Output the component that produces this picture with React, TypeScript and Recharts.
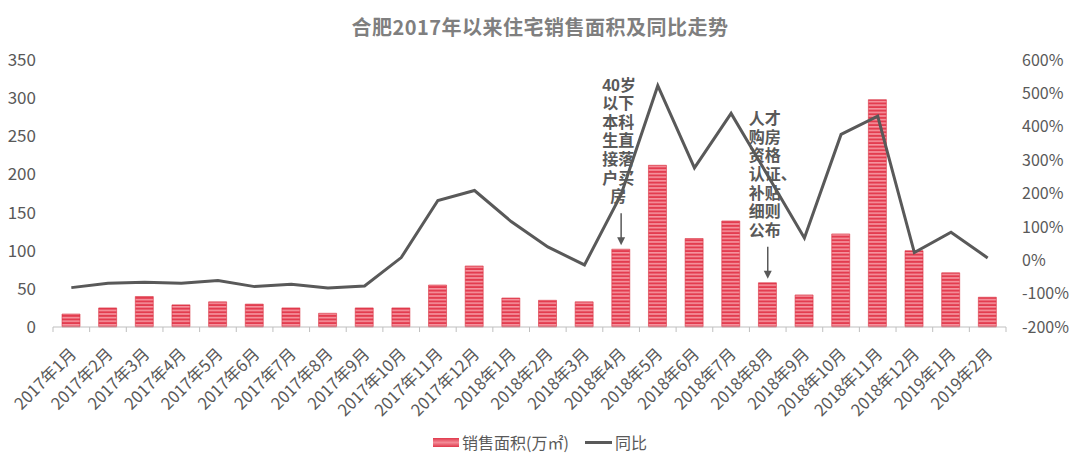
import React from "react";
import {
  ComposedChart,
  Bar,
  Line,
  XAxis,
  YAxis,
  Legend,
  ReferenceDot,
} from "recharts";

const months = [
  "2017年1月", "2017年2月", "2017年3月", "2017年4月", "2017年5月", "2017年6月",
  "2017年7月", "2017年8月", "2017年9月", "2017年10月", "2017年11月", "2017年12月",
  "2018年1月", "2018年2月", "2018年3月", "2018年4月", "2018年5月", "2018年6月",
  "2018年7月", "2018年8月", "2018年9月", "2018年10月", "2018年11月", "2018年12月",
  "2019年1月", "2019年2月",
];

// 销售面积 (万㎡)
const salesArea = [
  17, 25, 40, 29, 33, 30, 25, 18, 25, 25, 55, 80,
  38, 35, 33, 102, 212, 116, 139, 58, 42, 122, 298, 100,
  71, 39,
];

// 同比 (%)
const yoy = [
  -82, -69, -66, -69, -61, -79, -72, -83, -77, 8, 179, 209,
  116, 40, -14, 197, 523, 277, 440, 254, 67, 377, 432, 23,
  84, 7,
];

const leftTicks = [0, 50, 100, 150, 200, 250, 300, 350];
const rightTicks = [-200, -100, 0, 100, 200, 300, 400, 500, 600];

const notes = [
  { month: "2018年4月", lines: ["40岁", "以下", "本科", "生直", "接落", "户买", "房"] },
  { month: "2018年8月", lines: ["人才", "购房", "资格", "认证、", "补贴", "细则", "公布"] },
];

const chartData = months.map((m, i) => ({
  month: m,
  area: salesArea[i],
  yoy: yoy[i],
}));

const W = 1080;
const H = 465;
const LEFT_W = 53;
const RIGHT_W = 74;
const PLOT_W = W - LEFT_W - RIGHT_W;
const BAND = PLOT_W / months.length;
const FONT = '"Noto Sans CJK SC", "Noto Sans", sans-serif';
const NOTE_FONT = '"Liberation Sans", "Noto Sans CJK SC", sans-serif';
const GRAY = "#595959";

const MonthTick = (props: any) => {
  const { x, y, payload, index } = props;
  const half = BAND / 2;
  const tx = x + 6;
  const ty = y + 28;
  return (
    <g>
      <line x1={x - half} y1={y} x2={x - half} y2={y + 5} stroke="#bfbfbf" />
      {index === months.length - 1 && (
        <line x1={x + half} y1={y} x2={x + half} y2={y + 5} stroke="#bfbfbf" />
      )}
      <text
        x={tx}
        y={ty}
        transform={`rotate(-45, ${tx}, ${ty})`}
        textAnchor="end"
        fontSize={16.5}
        fill={GRAY}
        fontFamily={FONT}
      >
        {payload.value}
      </text>
    </g>
  );
};

// vertical note with arrow pointing at the bar top
const noteShape = (lines: string[]) => (props: any) => {
  const { cx, cy } = props;
  const lineH = 18.6;
  const firstY = cy - 47 - (lines.length - 1) * lineH;
  const top = cy - 36;
  const tip = cy - 4;
  return (
    <g>
      {lines.map((t, i) => {
        const single = t.length === 1;
        return (
          <text
            key={i}
            x={single ? cx - 3 : cx - 19}
            y={firstY + i * lineH}
            textAnchor={single ? "middle" : "start"}
            fontSize={16}
            fontWeight="bold"
            fill={GRAY}
            fontFamily={NOTE_FONT}
          >
            {t}
          </text>
        );
      })}
      <line x1={cx} y1={top} x2={cx} y2={tip - 7} stroke={GRAY} strokeWidth={1.5} />
      <path d={`M${cx - 4},${tip - 8} L${cx + 4},${tip - 8} L${cx},${tip} Z`} fill={GRAY} />
    </g>
  );
};

const LegendContent = () => (
  <div
    style={{
      height: 38,
      paddingBottom: 8,
      boxSizing: "border-box",
      display: "flex",
      alignItems: "center",
      justifyContent: "center",
      fontFamily: FONT,
      fontSize: 16,
      color: GRAY,
    }}
  >
    <span
      style={{
        display: "inline-block",
        width: 26,
        height: 9,
        background: "linear-gradient(#e0384b, #f38b97, #e0384b)",
        marginRight: 3,
      }}
    />
    <span>销售面积(万㎡)</span>
    <span
      style={{
        display: "inline-block",
        width: 27,
        height: 3,
        background: GRAY,
        marginLeft: 16,
        marginRight: 3,
      }}
    />
    <span>同比</span>
  </div>
);

export default function App() {
  return (
    <div style={{ position: "absolute", left: 0, top: 0, width: W, height: H, background: "#fff" }}>
      <ComposedChart
        width={W}
        height={H}
        data={chartData}
        margin={{ top: 60, right: 0, bottom: 0, left: 0 }}
        barCategoryGap={0}
        style={{ fontFamily: FONT }}
      >
        <defs>
          <pattern id="stripes" patternUnits="userSpaceOnUse" width="10" height="3.6">
            <rect x="0" y="0" width="10" height="3.6" fill="#e33c4f" />
            <rect x="0" y="0" width="10" height="1.6" fill="#f5949f" />
          </pattern>
        </defs>
        <text
          x={W / 2}
          y={35}
          textAnchor="middle"
          fontSize={20}
          fontWeight="bold"
          letterSpacing={0.5}
          fill="#7f7f7f"
          fontFamily={FONT}
        >
          合肥2017年以来住宅销售面积及同比走势
        </text>
        <XAxis
          dataKey="month"
          interval={0}
          height={100}
          tickLine={false}
          tickSize={0}
          tickMargin={0}
          axisLine={{ stroke: "#bfbfbf" }}
          tick={<MonthTick />}
        />
        <YAxis
          yAxisId="left"
          width={LEFT_W}
          domain={[0, 350]}
          ticks={leftTicks}
          axisLine={false}
          tickLine={false}
          tickSize={0}
          tickMargin={17}
          tick={{ fontSize: 17, fill: GRAY, fontFamily: FONT }}
        />
        <YAxis
          yAxisId="right"
          orientation="right"
          width={RIGHT_W}
          domain={[-200, 600]}
          ticks={rightTicks}
          axisLine={false}
          tickLine={false}
          tickSize={0}
          tickMargin={16}
          tickFormatter={(v: number) => `${v}%`}
          tick={{ fontSize: 16, fill: GRAY, fontFamily: FONT }}
        />
        <Legend verticalAlign="bottom" content={<LegendContent />} />
        <Bar
          yAxisId="left"
          dataKey="area"
          name="销售面积(万㎡)"
          barSize={18}
          fill="url(#stripes)"
          stroke="#d9303f"
          strokeWidth={0.6}
          isAnimationActive={false}
        />
        <Line
          yAxisId="right"
          dataKey="yoy"
          name="同比"
          type="linear"
          stroke={GRAY}
          strokeWidth={3}
          dot={false}
          activeDot={false}
          isAnimationActive={false}
        />
        {notes.map((n) => (
          <ReferenceDot
            key={n.month}
            yAxisId="left"
            x={n.month}
            y={salesArea[months.indexOf(n.month)]}
            r={0}
            shape={noteShape(n.lines)}
          />
        ))}
      </ComposedChart>
    </div>
  );
}
